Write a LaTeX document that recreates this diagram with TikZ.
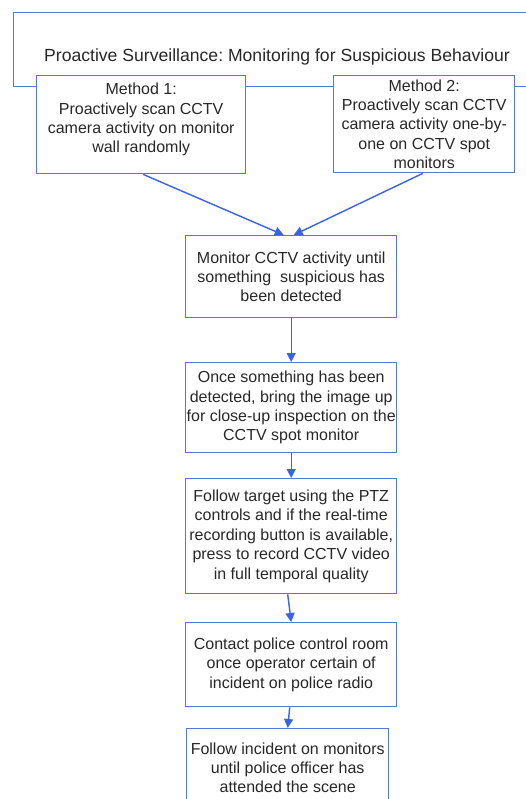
\documentclass[tikz,border=0pt]{standalone}
\usepackage{fontspec}
\setmainfont{Liberation Sans}
\usetikzlibrary{arrows.meta}
\definecolor{boxblue}{RGB}{84,120,216}
\definecolor{arrowblue}{RGB}{58,98,228}
\definecolor{ink}{RGB}{40,40,40}
\frenchspacing
\begin{document}
\begin{tikzpicture}[x=1pt,y=-1pt,
  every node/.style={font=\fontsize{16}{19.4}\selectfont, text=ink},
  stepbox/.style={draw=boxblue, line width=1.4pt, fill=white, anchor=north west,
    align=center, inner xsep=0pt, inner ysep=0pt},
  flow/.style={draw=arrowblue, line width=1.4pt,
    -{Triangle[length=9pt,width=9pt]}}]
\clip (0,0) rectangle (526,799);
\fill[white] (0,0) rectangle (526,799);

% outer frame with the title
\node[stepbox, minimum width=532pt, minimum height=74pt] (frame) at (13,12) {};
\node[font=\fontsize{17.6}{21}\selectfont] (title) at (277,57)
  {Proactive Surveillance: Monitoring for Suspicious Behaviour};

% the two scanning methods
\node[stepbox, minimum width=209pt, minimum height=98pt] (m1) at (36,75)
  {Method 1:\\Proactively scan CCTV\\camera activity on monitor\\wall randomly\\[-6pt]\mbox{}};
\node[stepbox, minimum width=181pt, minimum height=97pt] (m2) at (333,75)
  {Method 2:\\Proactively scan CCTV\\camera activity one-by-\\one on CCTV spot\\monitors};

% main sequence
\node[stepbox, minimum width=211pt, minimum height=82pt] (b3) at (185,235)
  {Monitor CCTV activity until\\something\ \ suspicious has\\been detected};
\node[stepbox, minimum width=211pt, minimum height=90pt] (b4) at (185,362)
  {Once something has been\\detected, bring the image up\\for close-up inspection on the\\CCTV spot monitor};
\node[stepbox, minimum width=211pt, minimum height=115pt] (b5) at (185,478)
  {Follow target using the PTZ\\controls and if the real-time\\recording button is available,\\press to record CCTV video\\in full temporal quality};
\node[stepbox, minimum width=211pt, minimum height=84pt] (b6) at (185,622)
  {Contact police control room\\once operator certain of\\incident on police radio};
\node[stepbox, minimum width=202pt, minimum height=78pt] (b7) at (186,728)
  {Follow incident on monitors\\until police officer has\\attended the scene};

% connectors
\draw[flow] ([xshift=2pt]m1.south) -- ([xshift=-7.5pt]b3.north);
\draw[flow] ([xshift=-1.5pt]m2.south) -- ([xshift=2.5pt]b3.north);
\draw[flow] (b3.south) -- (b4.north);
\draw[flow] (b4.south) -- (b5.north);
\draw[flow] ([xshift=-3.5pt]b5.south) -- (b6.north);
\draw[flow] ([xshift=-1.5pt]b6.south) -- (b7.north);
\end{tikzpicture}
\end{document}
